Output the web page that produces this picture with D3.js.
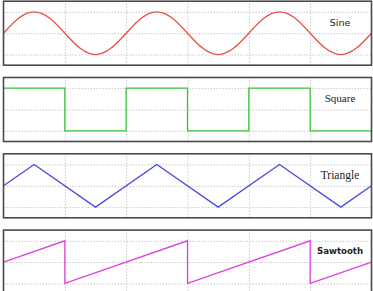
<!DOCTYPE html>
<html><head><meta charset="utf-8">
<script src="https://cdn.jsdelivr.net/npm/d3@7"></script>
<style>html,body{margin:0;padding:0;background:#fff;}svg{display:block;}</style>
</head><body>
<svg id="chart" width="373" height="291"></svg>
<script>
// ---- data ----
const waveNames = ["Sine", "Square", "Triangle", "Sawtooth"];
const sineT = [0,0.25,0.5,0.75,1,1.25,1.5,1.75,2,2.25,2.5,2.75,3,3.25,3.5,3.75,4,4.25,4.5,4.75,5,5.25,5.5,5.75,6];
const sineV = [0,0.71,1,0.71,0,-0.71,-1,-0.71,0,0.71,1,0.71,0,-0.71,-1,-0.71,0,0.71,1,0.71,0,-0.71,-1,-0.71,0];
const squareT = [0,1,1,2,2,3,3,4,4,5,5,6];
const squareV = [1,1,-1,-1,1,1,-1,-1,1,1,-1,-1];
const triangleT = [0,0.5,1.5,2.5,3.5,4.5,5.5,6];
const triangleV = [0,1,-1,1,-1,1,-1,0];
const sawtoothT = [0,1,1,3,3,5,5,6];
const sawtoothV = [0,1,-1,1,-1,1,-1,0];
const gridX = [1,2,3,4,5];
const gridY = [-1,0,1];
const xDomain = [0,6];
const yDomain = [-1.5,1.5];

// ---- styles ----
const colors = ["#e8504c", "#3cc43c", "#4b4bdc", "#e040e0"];
const labelFonts = [
  {family:"'DejaVu Sans', sans-serif", size:9.5, weight:400},
  {family:"'Liberation Serif', 'Times New Roman', serif", size:11, weight:400},
  {family:"'Liberation Serif', 'Times New Roman', serif", size:11.5, weight:400},
  {family:"'DejaVu Sans', sans-serif", size:8.6, weight:600}
];

const series = [
  {t: sineT, v: sineV, curve: d3.curveNatural},
  {t: squareT, v: squareV, curve: d3.curveLinear},
  {t: triangleT, v: triangleV, curve: d3.curveLinear},
  {t: sawtoothT, v: sawtoothV, curve: d3.curveLinear}
];

const svg = d3.select("#chart");
const left = 3.5, right = 371.5, panelH = 64, firstTop = 1.2, step = 76.3;

const x = d3.scaleLinear().domain(xDomain).range([left, right]);

series.forEach((s, i) => {
  const top = firstTop + i * step;
  const y = d3.scaleLinear().domain(yDomain).range([top + panelH, top]);
  const g = svg.append("g");

  const clipId = "clip" + i;
  g.append("clipPath").attr("id", clipId)
    .append("rect").attr("x", left).attr("y", top).attr("width", right - left).attr("height", panelH);

  const inner = g.append("g").attr("clip-path", `url(#${clipId})`);

  const gy = inner.append("g").attr("transform", `translate(${left},0)`)
    .call(d3.axisLeft(y).tickValues(gridY).tickSize(-(right - left)).tickFormat(""));
  gy.select(".domain").remove();
  gy.selectAll(".tick line").attr("stroke", "#c8c8c8").attr("stroke-dasharray", "1.5,1.5").attr("stroke-width", 1);

  const gx = inner.append("g").attr("transform", `translate(0,${top + panelH})`)
    .call(d3.axisBottom(x).tickValues(gridX).tickSize(-panelH).tickFormat(""));
  gx.select(".domain").remove();
  gx.selectAll(".tick line").attr("stroke", "#c8c8c8").attr("stroke-dasharray", "1.5,1.5").attr("stroke-width", 1);

  const line = d3.line().x(d => x(d[0])).y(d => y(d[1])).curve(s.curve);
  inner.append("path")
    .datum(s.t.map((t, k) => [t, s.v[k]]))
    .attr("d", line)
    .attr("fill", "none")
    .attr("stroke", colors[i])
    .attr("stroke-width", 1.3);

  const f = labelFonts[i];
  g.append("text")
    .attr("x", 340)
    .attr("y", top + 21)
    .attr("dy", "0.35em")
    .attr("text-anchor", "middle")
    .style("font-family", f.family)
    .style("font-size", f.size + "px")
    .style("font-weight", f.weight)
    .attr("fill", "#222")
    .text(waveNames[i]);

  g.append("rect")
    .attr("x", left).attr("y", top)
    .attr("width", right - left).attr("height", panelH)
    .attr("fill", "none")
    .attr("stroke", "#4a4a4a")
    .attr("stroke-width", 1.6);
});
</script>
</body></html>
